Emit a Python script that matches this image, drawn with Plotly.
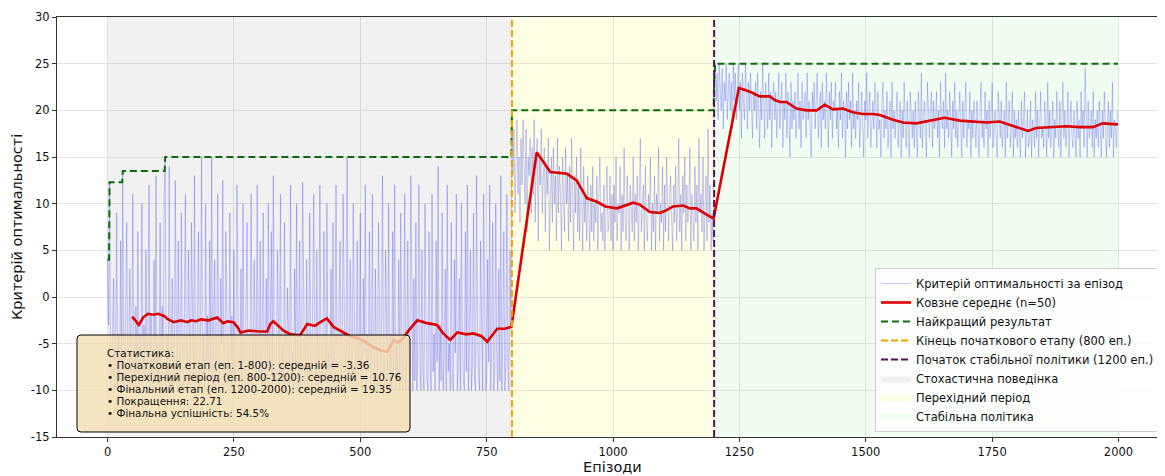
import plotly.graph_objects as go

# ---------------- data ----------------
episode_step = 2
raw_phase1 = [
    4, -3, 12.3, -8, -10, -5, 2, -10, -7, 9, -10, -4, -9, 6, -10, 13.5, -6, -10, -2, 8,
    -10, -7, 3, -10, -5, 11, -9, -10, -1, -8, 7, -10, -4, -6, 10, -10, -3, -9, 5, -10,
    -6, 12, -10, -2, -8, -10, 4, -7, 13, -10, -5, -9, 8, -10, -1, -6, 11, 15, -10, -4,
    -9, 14, -10, -6, 2, -10, -8, 12.5, -3, -10, 6, -7, -10, 9, -5, -10, -2, 11, -9, -10,
    5, -6, -10, 8, -3, -10, 13, -8, -10, -1, 7, -10, -5, 15, -9, -4, -10, 10, -7, -2,
    -10, 6, -8, 15, -10, -3, 4, -10, -6, 11, -9, -10, 2, -5, 12.5, -10, -8, 7, -4, -10,
    -6, 9, -10, -2, -9, 5, -10, -7, 12, -4, -10, -8, 3, -10, 10, -6, -10, -1, 8, -9,
    -10, -5, 11, -8, -10, 4, -3, -10, 12, -7, -9, 6, -10, -4, 9, -10, -6, 2, -10, 10,
    -8, -3, 7, -10, 13, -6, -9, -10, 5, -2, -10, 11, -8, -5, -10, 8, -7, -10, 1, -4,
    -10, 12, -9, -6, -10, 3, -8, 10, -10, -4, 6, -10, -7, 12.3, -3, -10, -9, 4, -10, -5,
    9, -8, -10, -2, 11, -6, -10, 5, -9, -10, 12, -4, -7, -10, 7, -3, -10, 10, -8, -6,
    -10, 3, -9, 8, -10, -5, 12, -7, -10, -1, 6, -10, -8, 11, -4, -10, -6, 15, -9, -10,
    4, -7, -10, 10, -3, -10, -8, 6, -10, -5, 9, -9, -10, 2, -6, 12, -10, -4, -8, 7,
    -10, -6, 11, -9, -10, 3, -7, -10, 8, -5, -10, -2, 13, -8, -10, 5, -6, -10, 10, -9,
    -4, -10, 7, -8, 12, -10, -5, -9, 4, -10, 9, -7, -10, -3, 11, -10, -6, 6, -10, -8,
    13, -5, -10, 2, -9, 8, -10, -4, 12, -7, -10, 5, -8, -10, 10, -2, -9, -10, 7, -6,
    -10, 11, -8, -4, -10, 6, -7, 14, -10, -3, -9, 9, -10, -6, 3, -10, 12, -8, -5, -10,
    8, -9, -10, 4, -6, 11, -10, -7, 2, -10, 10, -4, -9, -10, 7, -8, 12, -10, -5, 5,
    -10, -7, 9, -9, -10, 13, -4, -8, -10, 6, -6, -10, 11, -3, -10, -9, 4, -7, 12, -10,
    -5, 8, -10, -8, 10, -6, -10, 3, -9, 13, -10, -4, 7, -10, -7, 11, -8, -10, 5, -3,
]
raw_phase2 = [
    20, 13, 18, 9, 16, 19, 11, 15, 8, 17, 12, 19, 14, 10, 18, 7, 15, 13, 17, 9,
    16, 11, 19, 8, 14, 17, 6, 15, 12, 18, 9, 13, 16, 7, 14, 11, 17, 5, 12, 15,
    8, 16, 10, 13, 6, 17, 9, 14, 11, 5, 15, 12, 7, 16, 10, 13, 6, 14, 8, 17,
    11, 5, 13, 9, 15, 7, 12, 6, 16, 10, 5, 14, 8, 11, 6, 13, 9, 5, 12, 7,
    14, 6, 10, 8, 13, 5, 11, 15, 7, 9, 6, 12, 5, 10, 14, 7, 8, 13, 6, 11,
    5, 12, 8, 15, 6, 10, 9, 14, 5, 11, 7, 16, 8, 6, 13, 10, 5, 12, 9, 7,
    15, 6, 11, 8, 13, 5, 10, 17, 7, 9, 12, 5, 14, 8, 6, 11, 9, 15, 5, 10,
    7, 13, 5, 11, 9, 16, 6, 10, 8, 14, 5, 12, 7, 15, 9, 6, 11, 13, 8, 5,
    12, 8, 14, 6, 10, 17, 7, 11, 5, 13, 9, 15, 6, 12, 8, 10, 16, 5, 11, 9,
    6, 14, 8, 12, 5, 17, 9, 11, 7, 15, 5, 10, 13, 6, 18, 8, 12, 5, 9, 6,
]
raw_phase3 = [
    23.5, 25, 21, 24, 19, 25, 22, 20, 24.5, 18, 23, 21, 25, 19, 22, 24, 20, 23, 18, 25,
    21, 24, 19, 22, 25, 20, 23, 17, 24, 21, 19, 25, 22, 18, 23, 20, 24, 21, 17, 22,
    20, 23, 18, 24, 21, 16, 22, 19, 25, 20, 17, 23, 21, 18, 24, 19, 22, 16, 21, 23,
    19, 22, 17, 21, 24, 18, 20, 23, 16, 21, 19, 24, 17, 22, 20, 15, 23, 18, 21, 19,
    22, 17, 20, 24, 18, 21, 16, 23, 19, 20, 22, 17, 24, 19, 21, 18, 15, 22, 20, 23,
    18, 21, 24, 17, 20, 22, 16, 23, 19, 21, 18, 24, 20, 16, 22, 19, 23, 17, 21, 20,
    23, 18, 20, 16, 22, 19, 24, 17, 21, 20, 15, 22, 18, 23, 19, 21, 16, 24, 18, 20,
    17, 21, 19, 23, 16, 20, 22, 18, 15, 21, 19, 24, 17, 20, 22, 16, 19, 21, 18, 23,
    20, 16, 22, 18, 19, 15, 21, 23, 17, 20, 18, 22, 16, 19, 21, 15, 23, 18, 20, 17,
    19, 22, 16, 18, 21, 15, 20, 17, 23, 19, 16, 21, 18, 15, 22, 19, 17, 20, 16, 21,
    18, 15, 22, 20, 17, 24, 16, 19, 21, 18, 15, 23, 19, 17, 20, 22, 16, 21, 18, 19,
    22, 17, 20, 15, 23, 19, 18, 21, 16, 24, 18, 20, 17, 22, 19, 15, 21, 18, 23, 17,
    20, 16, 19, 22, 18, 15, 21, 17, 20, 23, 16, 19, 18, 22, 15, 20, 17, 21, 19, 16,
    21, 18, 15, 20, 23, 17, 19, 16, 22, 18, 20, 15, 21, 17, 19, 23, 16, 18, 20, 17,
    15, 22, 19, 17, 21, 16, 18, 20, 15, 23, 17, 19, 21, 16, 18, 22, 15, 20, 17, 19,
    16, 20, 18, 15, 21, 17, 19, 22, 15, 18, 20, 16, 17, 21, 15, 19, 18, 16, 22, 17,
    20, 15, 19, 22, 17, 18, 16, 21, 19, 15, 23, 17, 20, 16, 18, 21, 15, 19, 17, 22,
    18, 16, 21, 15, 19, 23, 17, 20, 16, 18, 22, 15, 19, 21, 17, 16, 20, 18, 15, 21,
    17, 19, 15, 22, 18, 20, 16, 24.5, 19, 15, 21, 17, 18, 20, 16, 22, 15, 19, 17, 20,
    16, 21, 18, 15, 20, 17, 22, 19, 15, 18, 21, 16, 20, 17, 23, 15, 19, 18, 16, 20,
]

ma_episodes = [
    49, 55, 62, 70, 80, 90, 100, 111, 120, 131, 145, 158, 165, 175, 185, 200,
    217, 229, 237, 249, 258, 263, 280, 300, 316, 322, 328, 340, 348, 362, 381,
    395, 401, 410, 421, 434, 447, 466, 480, 500, 526, 540, 553, 566, 575, 585,
    597, 613, 632, 652, 664, 678, 692, 710, 724, 740, 751, 771, 785, 799,
    849, 876, 889, 909, 928, 948, 968, 985, 1008, 1020, 1040, 1053, 1073, 1093,
    1106, 1119, 1139, 1152, 1165, 1186, 1199,
    1249, 1260, 1271, 1282, 1291, 1310, 1320, 1330, 1343, 1363, 1383, 1403, 1419,
    1435, 1455, 1474, 1494, 1514, 1528, 1554, 1574, 1600, 1627, 1656, 1686, 1712,
    1739, 1765, 1791, 1821, 1837, 1864, 1897, 1923, 1949, 1969, 1999,
]
ma_values = [
    -2.1, -2.5, -3.0, -2.2, -1.8, -1.9, -1.8, -2.0, -2.4, -2.7, -2.5, -2.7, -2.5,
    -2.6, -2.4, -2.5, -2.2, -2.8, -2.6, -2.7, -3.3, -3.8, -3.6, -3.7, -3.7, -2.9,
    -2.6, -3.2, -3.6, -4.0, -4.1, -2.9, -3.0, -3.1, -2.7, -2.3, -3.2, -3.8, -4.2,
    -4.5, -5.4, -5.7, -5.9, -4.6, -4.9, -4.4, -3.5, -2.5, -2.8, -3.0, -3.9, -4.6,
    -3.8, -4.0, -3.9, -4.2, -4.8, -3.4, -3.4, -3.2,
    15.5, 13.4, 13.3, 13.2, 12.5, 10.6, 10.2, 9.7, 9.5, 9.7, 10.1, 9.9, 9.1, 9.0,
    9.3, 9.7, 9.8, 9.5, 9.5, 8.8, 8.4,
    22.4, 22.2, 22.0, 21.7, 21.5, 21.5, 21.1, 20.9, 20.9, 20.2, 20.0, 20.0, 20.6,
    20.1, 20.2, 19.8, 19.6, 19.6, 19.5, 19.0, 18.7, 18.6, 18.9, 19.2, 18.9, 18.8,
    18.7, 18.8, 18.3, 17.8, 18.1, 18.2, 18.3, 18.2, 18.2, 18.6, 18.5,
]

best_change_episodes = [0, 4, 30, 114, 800, 1200, 1202]
best_change_values = [4.0, 12.3, 13.5, 15.0, 20.0, 23.5, 25.0]
n_episodes = 2000

phase_bounds = [0, 800, 1200, 2000]
phase_names = ["Стохастична поведінка", "Перехідний період", "Стабільна політика"]
x_ticks = [0, 250, 500, 750, 1000, 1250, 1500, 1750, 2000]
y_ticks = [-15, -10, -5, 0, 5, 10, 15, 20, 25, 30]
y_tick_labels = ["-15", "-10", "-5", "0", "5", "10", "15", "20", "25", "30"]

stats_title = "Статистика:"
stats_lines = [
    "Початковий етап (еп. 1-800): середній = -3.36",
    "Перехідний період (еп. 800-1200): середній = 10.76",
    "Фінальний етап (еп. 1200-2000): середній = 19.35",
    "Покращення: 22.71",
    "Фінальна успішність: 54.5%",
]

# ---------------- derived ----------------
raw_values = raw_phase1 + raw_phase2 + raw_phase3
raw_episodes = list(range(0, len(raw_values) * episode_step, episode_step))

best_episodes = list(range(n_episodes))
best_values = []
for ep in best_episodes:
    v = best_change_values[0]
    for ce, cv in zip(best_change_episodes, best_change_values):
        if ce <= ep:
            v = cv
    best_values.append(v)

y_min, y_max = y_ticks[0], y_ticks[-1]
FONT = "DejaVu Sans"

fig = go.Figure()

span_colors = ["rgba(128,128,128,0.11)", "rgba(255,255,0,0.11)", "rgba(144,238,144,0.13)"]
for i in range(3):
    a, b = phase_bounds[i], phase_bounds[i + 1]
    fig.add_trace(go.Scatter(
        x=[a, b, b, a, a], y=[y_min, y_min, y_max, y_max, y_min],
        mode="lines", fill="toself", fillcolor=span_colors[i],
        line=dict(width=0), name=phase_names[i], legendrank=6 + i,
        hoverinfo="skip",
    ))

fig.add_trace(go.Scatter(
    x=raw_episodes, y=raw_values, mode="lines",
    line=dict(color="rgba(0,0,255,0.28)", width=0.8),
    name="Критерій оптимальності за епізод", legendrank=1,
))
fig.add_trace(go.Scatter(
    x=ma_episodes, y=ma_values, mode="lines",
    line=dict(color="#dd0000", width=2.6),
    name="Ковзне середнє (n=50)", legendrank=2,
))
fig.add_trace(go.Scatter(
    x=best_episodes, y=best_values, mode="lines",
    line=dict(color="#0b6b0b", width=2, dash="7px,4px"),
    name="Найкращий результат", legendrank=3,
))
fig.add_trace(go.Scatter(
    x=[phase_bounds[1], phase_bounds[1]], y=[y_min, y_max], mode="lines",
    line=dict(color="#eea400", width=2, dash="7px,3px"),
    name="Кінець початкового етапу (800 еп.)", legendrank=4,
))
fig.add_trace(go.Scatter(
    x=[phase_bounds[2], phase_bounds[2]], y=[y_min, y_max], mode="lines",
    line=dict(color="#5a0f5c", width=2, dash="7px,3px"),
    name="Початок стабільної політики (1200 еп.)", legendrank=5,
))

# ---- layout geometry (page has an 8px body margin) ----
OFF = 8
PL, PT, PR, PB = 57, 17, 1165, 437          # plot box in page pixels
W, H = 1165 - OFF, 476 - OFF
ml, mt = PL - OFF, PT - OFF
mr = (OFF + W) - PR
mb = (OFF + H) - PB
pw, ph = PR - PL, PB - PT

def px_to_paper_x(px):
    return (px - PL) / pw

def px_to_paper_y(py):
    return (PB - py) / ph

# stats box (rounded rectangle)
bx0, bx1 = px_to_paper_x(77), px_to_paper_x(410)
by0, by1 = px_to_paper_y(432), px_to_paper_y(335)
rx, ry = 4 / pw, 4 / ph
path = (f"M {bx0+rx},{by0} L {bx1-rx},{by0} Q {bx1},{by0} {bx1},{by0+ry} "
        f"L {bx1},{by1-ry} Q {bx1},{by1} {bx1-rx},{by1} "
        f"L {bx0+rx},{by1} Q {bx0},{by1} {bx0},{by1-ry} "
        f"L {bx0},{by0+ry} Q {bx0},{by0} {bx0+rx},{by0} Z")
fig.add_shape(type="path", path=path, xref="paper", yref="paper",
              fillcolor="rgba(245,222,179,0.82)", line=dict(color="black", width=1),
              layer="above")

all_lines = [stats_title] + ["• " + s for s in stats_lines]
for k, line in enumerate(all_lines):
    fig.add_annotation(
        text=line, xref="paper", yref="paper",
        x=px_to_paper_x(105), y=px_to_paper_y(353 + 12 * k),
        xanchor="left", yanchor="middle", align="left", showarrow=False,
        font=dict(family=FONT, size=10.4, color="#111"),
    )

# axis titles
fig.add_annotation(
    text="Критерій оптимальності", xref="paper", yref="paper",
    x=px_to_paper_x(17), y=0.5, textangle=-90, showarrow=False,
    xanchor="center", yanchor="middle", font=dict(family=FONT, size=14.5, color="#111"),
)
fig.add_annotation(
    text="Епізоди", xref="paper", yref="paper",
    x=px_to_paper_x(612), y=px_to_paper_y(467), showarrow=False,
    xanchor="center", yanchor="middle", font=dict(family=FONT, size=14.5, color="#111"),
)

fig.update_layout(
    width=W, height=H,
    margin=dict(l=ml, r=mr, t=mt, b=mb, pad=0),
    paper_bgcolor="white", plot_bgcolor="white",
    font=dict(family=FONT, size=11, color="#111"),
    showlegend=True,
    legend=dict(
        x=px_to_paper_x(875), y=px_to_paper_y(432), xanchor="left", yanchor="bottom",
        bgcolor="rgba(255,255,255,0.85)", bordercolor="#cccccc", borderwidth=1,
        font=dict(family=FONT, size=11.5, color="#111"), tracegroupgap=0,
        itemwidth=30,
    ),
    hovermode=False,
)
fig.update_xaxes(
    range=[-100, 2092], tickvals=x_ticks, showgrid=True, gridcolor="#e3e3e3", gridwidth=0.8,
    zeroline=False, showline=True, linecolor="#333", linewidth=1.2, mirror=True,
    ticks="outside", ticklen=4, tickcolor="#333", tickfont=dict(family=FONT, size=11.5),
)
fig.update_yaxes(
    range=[y_min, y_max], tickvals=y_ticks, ticktext=y_tick_labels,
    showgrid=True, gridcolor="#e3e3e3", gridwidth=0.8,
    zeroline=False, showline=True, linecolor="#333", linewidth=1.2, mirror=True,
    ticks="outside", ticklen=4, tickcolor="#333", tickfont=dict(family=FONT, size=11.5),
)

fig.write_html("out.html")
